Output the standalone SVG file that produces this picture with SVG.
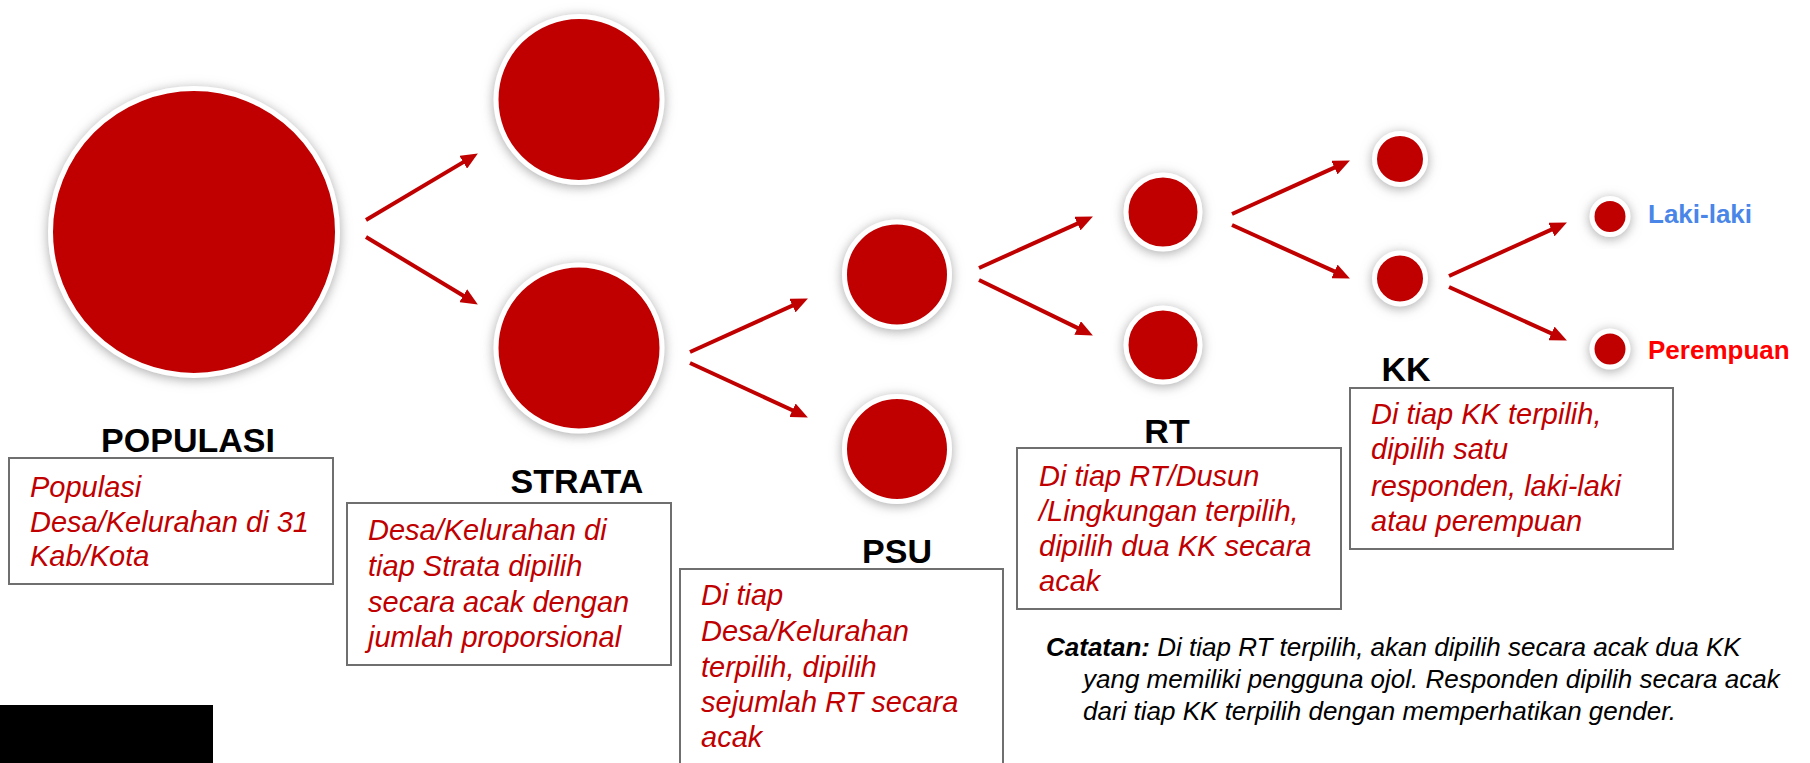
<svg xmlns="http://www.w3.org/2000/svg" width="1810" height="763" viewBox="0 0 1810 763">
<style>
.node circle{fill:#C00000;stroke:#ffffff;stroke-width:5;filter:url(#glow)}
.title{font-family:"Liberation Sans",Arial,sans-serif;font-weight:bold;font-size:34px;fill:#000;text-anchor:middle}
.box{fill:#fff;stroke:#6f6f6f;stroke-width:2}
.desc{font-family:"Liberation Sans",Arial,sans-serif;font-style:italic;font-size:29px;fill:#C00000}
.conn line{stroke:#C00000;stroke-width:4;marker-end:url(#arr)}
.note{font-family:"Liberation Sans",Arial,sans-serif;font-style:italic;font-size:26px;fill:#000}
.lbl{font-family:"Liberation Sans",Arial,sans-serif;font-weight:bold;font-size:26px}
</style>
<defs>
<filter id="glow" x="-40%" y="-40%" width="180%" height="180%">
<feDropShadow dx="0" dy="2" stdDeviation="6" flood-color="#8c8c8c" flood-opacity="0.75"/>
</filter>
<marker id="arr" markerUnits="userSpaceOnUse" markerWidth="17" markerHeight="15" refX="6" refY="7.5" orient="auto">
<path d="M0,0 L17,7.5 L0,15 z" fill="#C00000"/>
</marker>
</defs>
<rect x="0" y="0" width="1810" height="763" fill="#fff"/>

<g id="connectors" class="conn">
<line x1="366" y1="220" x2="468.4" y2="159.1"/>
<line x1="366" y1="237" x2="468.4" y2="298.8"/>
<line x1="690" y1="352" x2="797.9" y2="303.1"/>
<line x1="690" y1="363" x2="797.9" y2="412.8"/>
<line x1="979" y1="268" x2="1082.9" y2="221.1"/>
<line x1="979" y1="280" x2="1083" y2="330.6"/>
<line x1="1232" y1="214" x2="1339.9" y2="165.1"/>
<line x1="1232" y1="225" x2="1339.9" y2="273.9"/>
<line x1="1449" y1="276" x2="1556.9" y2="227.1"/>
<line x1="1449" y1="287" x2="1556.9" y2="335.9"/>
</g>

<g id="populasi" class="node">
<circle cx="194" cy="232" r="143.5"/>
<text class="title" x="188" y="452">POPULASI</text>
<rect class="box" x="9" y="458" width="324" height="126"/>
<text class="desc" x="30" y="497">Populasi</text>
<text class="desc" x="30" y="532">Desa/Kelurahan di 31</text>
<text class="desc" x="30" y="566">Kab/Kota</text>
</g>

<g id="strata" class="node">
<circle cx="579" cy="99.5" r="83"/>
<circle cx="579" cy="348" r="83"/>
<text class="title" x="577" y="493">STRATA</text>
<rect class="box" x="347" y="503" width="324" height="162"/>
<text class="desc" x="368" y="540">Desa/Kelurahan di</text>
<text class="desc" x="368" y="576">tiap Strata dipilih</text>
<text class="desc" x="368" y="612">secara acak dengan</text>
<text class="desc" x="368" y="647">jumlah proporsional</text>
</g>

<g id="psu" class="node">
<circle cx="897" cy="274.5" r="52.5"/>
<circle cx="897" cy="449" r="52.5"/>
<text class="title" x="897" y="563">PSU</text>
<rect class="box" x="680" y="569" width="323" height="210"/>
<text class="desc" x="701" y="605">Di tiap</text>
<text class="desc" x="701" y="641">Desa/Kelurahan</text>
<text class="desc" x="701" y="677">terpilih, dipilih</text>
<text class="desc" x="701" y="712">sejumlah RT secara</text>
<text class="desc" x="701" y="747">acak</text>
</g>

<g id="rt" class="node">
<circle cx="1163" cy="212" r="37"/>
<circle cx="1163" cy="345" r="37"/>
<text class="title" x="1167" y="443">RT</text>
<rect class="box" x="1017" y="448" width="324" height="161"/>
<text class="desc" x="1039" y="486">Di tiap RT/Dusun</text>
<text class="desc" x="1039" y="521">/Lingkungan terpilih,</text>
<text class="desc" x="1039" y="556">dipilih dua KK secara</text>
<text class="desc" x="1039" y="591">acak</text>
</g>

<g id="kk" class="node">
<circle cx="1400" cy="159" r="25.5"/>
<circle cx="1400" cy="278.5" r="25.5"/>
<text class="title" x="1406" y="381">KK</text>
<rect class="box" x="1350" y="388" width="323" height="161"/>
<text class="desc" x="1371" y="424">Di tiap KK terpilih,</text>
<text class="desc" x="1371" y="459">dipilih satu</text>
<text class="desc" x="1371" y="496">responden, laki-laki</text>
<text class="desc" x="1371" y="531">atau perempuan</text>
</g>

<g id="laki-laki" class="node">
<circle cx="1610" cy="216.5" r="18"/>
<text class="lbl" x="1648" y="223" fill="#4a86e8">Laki-laki</text>
</g>

<g id="perempuan" class="node">
<circle cx="1610" cy="349" r="18"/>
<text class="lbl" x="1648" y="359" fill="#ff0000">Perempuan</text>
</g>

<g id="catatan">
<text class="note" x="1046" y="656"><tspan font-weight="bold">Catatan:</tspan> Di tiap RT terpilih, akan dipilih secara acak dua KK</text>
<text class="note" x="1083" y="688">yang memiliki pengguna ojol. Responden dipilih secara acak</text>
<text class="note" x="1083" y="720">dari tiap KK terpilih dengan memperhatikan gender.</text>
</g>

<rect id="black-block" x="0" y="705" width="213" height="58" fill="#000"/>
</svg>
